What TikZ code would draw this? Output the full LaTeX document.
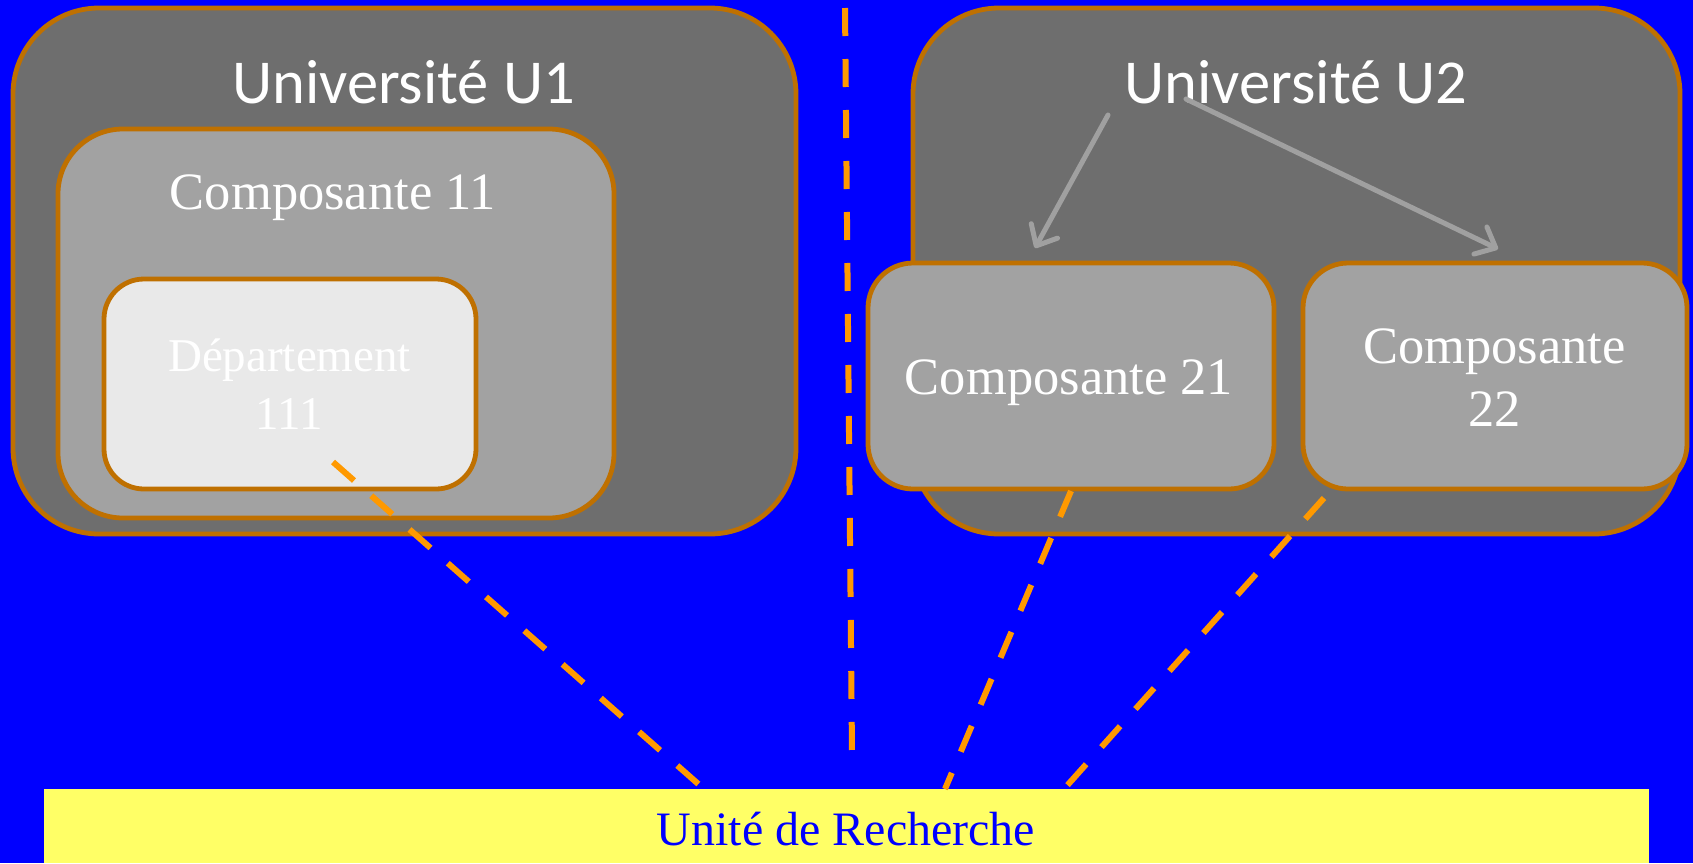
\documentclass[tikz,border=0pt]{standalone}
\usepackage{fontspec}
\setmainfont{Liberation Serif}
\newfontfamily\calibfont{Carlito}
\usetikzlibrary{arrows.meta}
\definecolor{bgblue}{HTML}{0000FF}
\definecolor{darkbox}{HTML}{6E6E6E}
\definecolor{midbox}{HTML}{A2A2A2}
\definecolor{lightbox}{HTML}{E9E9E9}
\definecolor{border}{HTML}{BF7000}
\definecolor{dashorange}{HTML}{FF9900}
\definecolor{arrowgray}{HTML}{A0A0A0}
\definecolor{urfill}{HTML}{FFFF66}
\tikzset{
  box/.style={draw=border, line width=4.8pt, inner sep=0pt, outer sep=0pt},
  unibox/.style={box, fill=darkbox, rounded corners=86pt},
  compbox/.style={box, fill=midbox},
  deptbox/.style={box, fill=lightbox, rounded corners=40pt},
  unititle/.style={text=white, inner sep=0pt, anchor=base, font=\calibfont\fontsize{62.5}{75}\selectfont},
  comptext/.style={text=white, inner sep=0pt, font=\fontsize{52.5}{63}\selectfont, align=center},
  depttext/.style={text=white, inner sep=0pt, font=\fontsize{47}{57.6}\selectfont, align=center},
  dashline/.style={draw=dashorange, line width=6pt, dash pattern=on 28pt off 23pt},
  grayarrow/.style={draw=arrowgray, line width=5pt, line cap=round, -{Straight Barb[length=17pt,width=30pt,line cap=round,line join=round]}},
}
\begin{document}
\begin{tikzpicture}[x=1pt,y=-1pt]
\useasboundingbox (0,0) rectangle (1693,863);
\fill[bgblue] (0,0) rectangle (1693,863);

% University U1
\node[unibox, minimum width=783pt, minimum height=526pt] (u1) at (404.5,271) {};
\node[unititle] (u1t) at (403.5,103.5) {Université U1};
\node[compbox, rounded corners=65pt, minimum width=556pt, minimum height=389pt] (c11) at (336,323.5) {};
\node[comptext, anchor=base] (c11t) at (333,209) {Composante 11};
\node[deptbox, minimum width=372pt, minimum height=210pt] (d111) at (290,384) {};
\node[depttext] (d111t) at (289.5,384) {Département\\111};

% University U2
\node[unibox, minimum width=767pt, minimum height=526pt] (u2) at (1296.5,271) {};
\node[unititle] (u2t) at (1296,103.5) {Université U2};
\coordinate (arA) at (1108,115);
\coordinate (arAend) at (1035,248);
\coordinate (arB) at (1186,99);
\coordinate (arBend) at (1498,249);
\draw[grayarrow] (arA) -- (arAend);
\draw[grayarrow] (arB) -- (arBend);
\node[compbox, rounded corners=45pt, minimum width=406pt, minimum height=226pt] (c21) at (1071,376) {};
\node[comptext, anchor=base] (c21t) at (1069,394.6) {Composante 21};
\node[compbox, rounded corners=45pt, minimum width=384pt, minimum height=226pt] (c22) at (1495,376) {};
\node[comptext] (c22t) at (1494.6,377.2) {Composante\\22};

% Unite de Recherche
\node[fill=urfill, inner sep=0pt, minimum width=1605pt, minimum height=74pt] (ur) at (846.5,826) {};
\node[text=bgblue, inner sep=0pt, anchor=base, font=\fontsize{48}{58}\selectfont] (urt) at (846,845) {Unité de Recherche};

% dashed links
\coordinate (sep1) at (845,8);
\coordinate (sep2) at (852,753);
\draw[dashline] (sep1) -- (sep2);
\coordinate (lA) at (333,462);
\coordinate (lAend) at (704,789);
\coordinate (lB) at (1071,491);
\coordinate (lBend) at (945,789);
\coordinate (lC) at (1324,498);
\coordinate (lCend) at (1064,789);
\draw[dashline] (lA) -- (lAend);
\draw[dashline] (lB) -- (lBend);
\draw[dashline] (lC) -- (lCend);
\end{tikzpicture}
\end{document}
